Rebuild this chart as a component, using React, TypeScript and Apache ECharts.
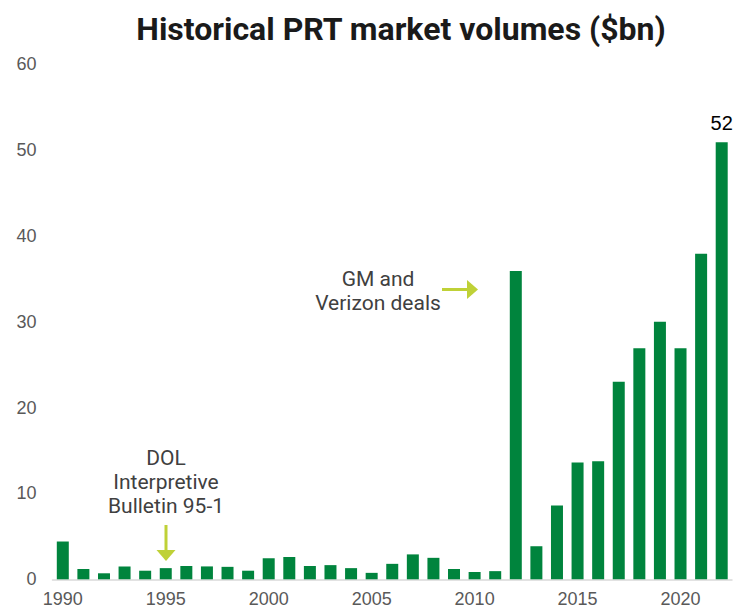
import React, { useEffect, useRef } from "react";
import * as echarts from "echarts";

const years: string[] = [
  "1990", "1991", "1992", "1993", "1994", "1995", "1996", "1997", "1998", "1999",
  "2000", "2001", "2002", "2003", "2004", "2005", "2006", "2007", "2008", "2009",
  "2010", "2011", "2012", "2013", "2014", "2015", "2016", "2017", "2018", "2019",
  "2020", "2021", "2022",
];
const volumes: number[] = [
  4.4, 1.2, 0.7, 1.5, 1.0, 1.3, 1.55, 1.5, 1.45, 1.0,
  2.45, 2.6, 1.55, 1.65, 1.3, 0.75, 1.8, 2.9, 2.5, 1.2,
  0.85, 0.95, 35.9, 3.85, 8.6, 13.6, 13.75, 23, 26.9, 30,
  26.9, 37.9, 50.9,
];
const barLabels: string[] = volumes.map((_, i) => (i === volumes.length - 1 ? "52" : ""));
const yTicks = { min: 0, max: 60, interval: 10 };
const titleText = "Historical PRT market volumes ($bn)";
const dolNote = "DOL\nInterpretive\nBulletin 95-1";
const gmNote = "GM and\nVerizon deals";

const GREEN = "#00843d";
const ARROW = "#bfd137";
const AXIS_FONT = "'Liberation Sans', Arial, sans-serif";

export default function App() {
  const ref = useRef<HTMLDivElement>(null);
  useEffect(() => {
    document.body.style.margin = "0";
    if (!ref.current) return;
    const chart = echarts.init(ref.current, null, { renderer: "svg" });
    chart.setOption({
      animation: false,
      backgroundColor: "#ffffff",
      textStyle: { fontFamily: "Roboto" },
      graphic: [
        {
          type: "text",
          x: 401,
          y: 29,
          style: {
            text: titleText,
            fill: "#1a1a1a",
            fontSize: 32,
            fontWeight: "bold",
            fontFamily: "Roboto",
            align: "center",
            verticalAlign: "middle",
          },
        },
        {
          type: "text",
          x: 166,
          y: 482,
          style: {
            text: dolNote,
            fill: "#404040",
            fontSize: 21,
            lineHeight: 24,
            fontFamily: "Roboto",
            align: "center",
            verticalAlign: "middle",
          },
        },
        {
          type: "line",
          shape: { x1: 166, y1: 525, x2: 166, y2: 551 },
          style: { stroke: ARROW, lineWidth: 3 },
        },
        {
          type: "polygon",
          shape: { points: [[156.5, 550], [175.5, 550], [166, 561]] },
          style: { fill: ARROW },
        },
        {
          type: "text",
          x: 378,
          y: 291,
          style: {
            text: gmNote,
            fill: "#404040",
            fontSize: 21,
            lineHeight: 24,
            fontFamily: "Roboto",
            align: "center",
            verticalAlign: "middle",
          },
        },
        {
          type: "line",
          shape: { x1: 442, y1: 289.5, x2: 468, y2: 289.5 },
          style: { stroke: ARROW, lineWidth: 3 },
        },
        {
          type: "polygon",
          shape: { points: [[467, 280], [467, 299], [478, 289.5]] },
          style: { fill: ARROW },
        },
      ],
      grid: { left: 52.5, right: 1, top: 64, bottom: 31.7, containLabel: false },
      xAxis: {
        type: "category",
        data: years,
        boundaryGap: true,
        axisLine: { show: true, lineStyle: { color: "#d9d9d9", width: 1.5 } },
        axisTick: { show: false },
        axisLabel: {
          interval: 4,
          fontSize: 18,
          color: "#595959",
          margin: 11,
          fontFamily: AXIS_FONT,
        },
      },
      yAxis: {
        type: "value",
        min: yTicks.min,
        max: yTicks.max,
        interval: yTicks.interval,
        splitLine: { show: false },
        axisLine: { show: false },
        axisTick: { show: false },
        axisLabel: { fontSize: 18, color: "#595959", margin: 16, fontFamily: AXIS_FONT },
      },
      series: [
        {
          type: "bar",
          data: volumes,
          barWidth: 12,
          itemStyle: { color: GREEN },
          label: {
            show: true,
            position: "top",
            distance: 9,
            fontSize: 20,
            color: "#000000",
            fontFamily: AXIS_FONT,
            formatter: (p: any) => barLabels[p.dataIndex],
          },
        },
      ],
    });
    return () => chart.dispose();
  }, []);
  return <div ref={ref} style={{ width: 733, height: 611 }} />;
}
